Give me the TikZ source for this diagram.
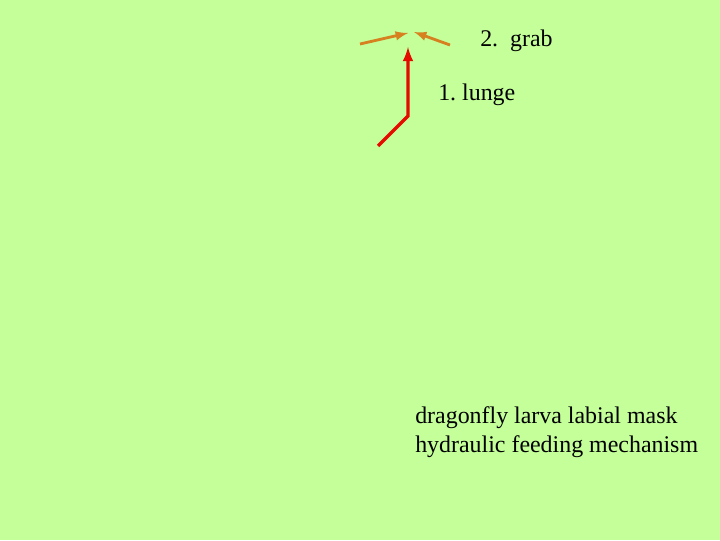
\documentclass[tikz,border=0pt]{standalone}
\usepackage{fontspec}
\setmainfont{Liberation Serif}
\definecolor{slidegreen}{RGB}{196,255,153}
\definecolor{lungered}{RGB}{228,12,0}
\definecolor{graborange}{RGB}{214,128,32}
\begin{document}
\begin{tikzpicture}[x=0.025cm,y=-0.025cm]

        \fill[slidegreen] (0,0) rectangle (720,540);

        \begin{scope}[every node/.style={anchor=west,inner sep=0pt,font=\fontsize{17}{20}\selectfont}]
          \node (grab)  at (480,41) {2.\ \ grab};
          \node (lunge) at (438,95) {1.\ lunge};
          \node[align=left,font=\fontsize{17}{20.5}\selectfont] (caption) at (415,432)
            {dragonfly larva labial mask\\hydraulic feeding mechanism};
        \end{scope}

        \coordinate (base)  at (378,146);
        \coordinate (knee)  at (408,116);
        \coordinate (tip)   at (408,47);
        \coordinate (lfrom) at (360,44);
        \coordinate (lto)   at (408,33);
        \coordinate (rfrom) at (450,45);
        \coordinate (rto)   at (414,32);

        \begin{scope}[every path/.style={line width=2.4pt,-latex}]
          \draw[lungered] (base) -- (knee) -- (tip);
          \draw[graborange,line width=2pt] (lfrom) -- (lto);
          \draw[graborange,line width=2pt] (rfrom) -- (rto);
        \end{scope}

      \end{tikzpicture}
\end{document}
